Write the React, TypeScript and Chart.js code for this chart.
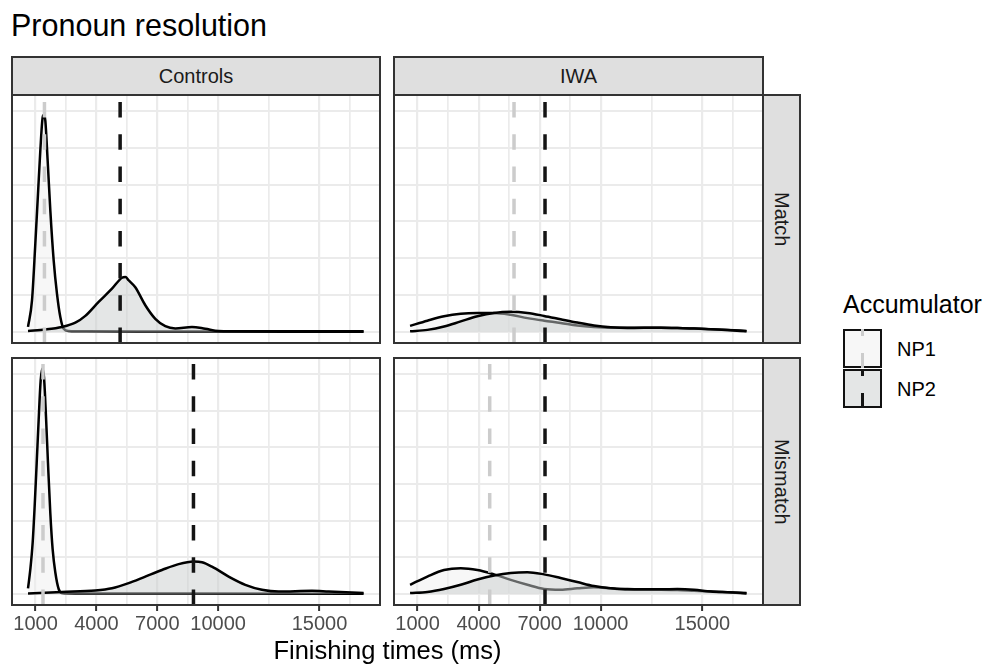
import React, { useEffect, useRef } from "react";
import { Chart, registerables } from "chart.js";

Chart.register(...registerables);

const FONT = "'Liberation Sans', Arial, Helvetica, sans-serif";

// ---------- scales ----------
const X_MIN = -160;
const X_MAX = 17980;
const X_MAJOR = [1000, 4000, 7000, 10000, 15000];
const X_MINOR = [2500, 5500, 8500, 12500, 16500];
const Y_MIN = -0.307;
const Y_MAX = 6.44;
const Y_GRID = [0, 1, 2, 3, 4, 5, 6];

// ---------- labels ----------
const TITLE = "Pronoun resolution";
const X_TITLE = "Finishing times (ms)";
const COLS = ["Controls", "IWA"];
const ROWS = ["Match", "Mismatch"];
const LEGEND_TITLE = "Accumulator";
const GROUPS = ["NP1", "NP2"];

// ---------- densities (x in ms, y in density units) ----------
const CTRL_MATCH_NP1_X = [629, 826, 990, 1121, 1236, 1351, 1417, 1483, 1598, 1729, 1894, 2058, 2222, 2386, 2633, 3500, 6000, 10000, 17170];
const CTRL_MATCH_NP1_Y = [0.13, 0.85, 2.4, 3.75, 4.93, 5.83, 5.9, 5.74, 4.65, 3.3, 1.94, 1.03, 0.4, 0.08, 0.02, 0.01, 0.005, 0.003, 0.002];
const CTRL_MATCH_NP2_X = [629, 1483, 2304, 2961, 3454, 4111, 4768, 5261, 5430, 5590, 5918, 6411, 6904, 7397, 7890, 8711, 9368, 10025, 11340, 17170];
const CTRL_MATCH_NP2_Y = [0.02, 0.06, 0.13, 0.245, 0.43, 0.81, 1.17, 1.47, 1.49, 1.4, 1.21, 0.72, 0.35, 0.15, 0.09, 0.13, 0.08, 0.02, 0.01, 0.01];

const CTRL_MISMATCH_NP1_X = [629, 744, 859, 957, 1057, 1154, 1253, 1335, 1417, 1516, 1614, 1729, 1844, 1976, 2140, 2304, 3000, 8000, 17170];
const CTRL_MISMATCH_NP1_Y = [0.145, 0.67, 1.4, 2.39, 3.57, 4.75, 5.83, 6.15, 5.92, 4.84, 3.57, 2.2, 1.21, 0.58, 0.13, 0.02, 0.01, 0.005, 0.003];
const CTRL_MISMATCH_NP2_X = [629, 2304, 3947, 4768, 5590, 6411, 7233, 8054, 8793, 9204, 9697, 10518, 11340, 12161, 12982, 14625, 15447, 17170];
const CTRL_MISMATCH_NP2_Y = [0.01, 0.05, 0.09, 0.15, 0.29, 0.47, 0.65, 0.81, 0.88, 0.86, 0.74, 0.47, 0.245, 0.11, 0.06, 0.08, 0.06, 0.02];

const IWA_X = [630, 1480, 2300, 3120, 3940, 4760, 5580, 6400, 7220, 8030, 8850, 9670, 10490, 11310, 12950, 13770, 14590, 15410, 16230, 17170];
const IWA_MATCH_NP1_Y = [0.16, 0.3, 0.42, 0.49, 0.51, 0.51, 0.46, 0.37, 0.3, 0.24, 0.17, 0.13, 0.11, 0.11, 0.11, 0.1, 0.09, 0.07, 0.05, 0.02];
const IWA_MATCH_NP2_Y = [0.01, 0.05, 0.14, 0.28, 0.42, 0.51, 0.54, 0.51, 0.43, 0.34, 0.25, 0.17, 0.12, 0.1, 0.11, 0.1, 0.09, 0.07, 0.045, 0.01];
const IWA_MISMATCH_NP1_Y = [0.245, 0.47, 0.65, 0.7, 0.65, 0.53, 0.38, 0.245, 0.13, 0.11, 0.15, 0.18, 0.15, 0.11, 0.11, 0.1, 0.08, 0.06, 0.04, 0.01];
const IWA_MISMATCH_NP2_Y = [0.02, 0.05, 0.13, 0.245, 0.39, 0.5, 0.57, 0.59, 0.53, 0.43, 0.32, 0.21, 0.15, 0.13, 0.12, 0.13, 0.11, 0.06, 0.04, 0.02];

// mean finishing times (dashed lines): [Controls-Match, IWA-Match, Controls-Mismatch, IWA-Mismatch]
const MEAN_NP1 = [1440, 5740, 1368, 4545];
const MEAN_NP2 = [5170, 7264, 8785, 7264];

// ---------- styles ----------
const NP1_FILL = "rgba(239,239,239,0.5)";
const NP2_FILL = "rgba(201,205,205,0.5)";
const NP1_VLINE = "#CCCCCC";
const NP2_VLINE = "#141414";
const DASH = [15.5, 16.7];
const GRID = "#EBEBEB";
const BORDER = "#333333";
const STRIP_BG = "#DFDFDF";

type PanelSpec = {
  left: number;
  top: number;
  width: number;
  height: number;
  axis: boolean;
  np1x: number[];
  np1y: number[];
  np2x: number[];
  np2y: number[];
  m1: number;
  m2: number;
};

const PAD = 3;
const AXIS_H = 40;

const borderPlugin = {
  id: "panelBorder",
  afterDraw(chart: any) {
    const { ctx, chartArea: a } = chart;
    ctx.save();
    ctx.strokeStyle = BORDER;
    ctx.lineWidth = 2;
    ctx.strokeRect(a.left, a.top, a.right - a.left, a.bottom - a.top);
    ctx.restore();
  },
};

function Panel({ spec }: { spec: PanelSpec }) {
  const ref = useRef<HTMLCanvasElement>(null);
  const cw = spec.width + 2 * PAD;
  const ch = spec.height + PAD + (spec.axis ? AXIS_H : PAD);

  useEffect(() => {
    const toPts = (xs: number[], ys: number[]) => xs.map((x, i) => ({ x, y: ys[i] }));
    const vline = (m: number) => [
      { x: m, y: Y_MIN },
      { x: m, y: Y_MAX },
    ];
    const chart = new Chart(ref.current as HTMLCanvasElement, {
      type: "line",
      data: {
        datasets: [
          {
            label: "NP1 mean",
            data: vline(spec.m1),
            borderColor: NP1_VLINE,
            borderWidth: 3.5,
            borderDash: DASH,
            borderCapStyle: "butt",
            pointRadius: 0,
            fill: false,
            order: 0,
          },
          {
            label: "NP2 mean",
            data: vline(spec.m2),
            borderColor: NP2_VLINE,
            borderWidth: 3.5,
            borderDash: DASH,
            borderCapStyle: "butt",
            pointRadius: 0,
            fill: false,
            order: 0,
          },
          {
            label: GROUPS[1],
            data: toPts(spec.np2x, spec.np2y),
            borderColor: "#000000",
            borderWidth: 2.5,
            backgroundColor: NP2_FILL,
            fill: "origin",
            pointRadius: 0,
            cubicInterpolationMode: "monotone",
            order: 1,
          },
          {
            label: GROUPS[0],
            data: toPts(spec.np1x, spec.np1y),
            borderColor: "#000000",
            borderWidth: 2.5,
            backgroundColor: NP1_FILL,
            fill: "origin",
            pointRadius: 0,
            cubicInterpolationMode: "monotone",
            order: 2,
          },
        ],
      } as any,
      options: {
        responsive: false,
        animation: false,
        events: [],
        layout: {
          padding: { left: PAD, right: PAD, top: PAD, bottom: spec.axis ? 0 : PAD },
        },
        plugins: {
          legend: { display: false },
          tooltip: { enabled: false },
        },
        scales: {
          x: {
            type: "linear",
            min: X_MIN,
            max: X_MAX,
            afterBuildTicks: (ax: any) => {
              ax.ticks = [...X_MAJOR, ...X_MINOR].sort((a, b) => a - b).map((v) => ({ value: v }));
            },
            afterFit: (ax: any) => {
              ax.height = spec.axis ? AXIS_H : 0;
              ax.paddingLeft = 0;
              ax.paddingRight = 0;
            },
            border: { display: false },
            grid: {
              color: GRID,
              lineWidth: (c: any) => (c.tick && X_MAJOR.includes(c.tick.value) ? 2.2 : 1.7),
              drawTicks: spec.axis,
              tickLength: 6,
              tickWidth: 2,
              tickColor: (c: any) =>
                c.tick && X_MAJOR.includes(c.tick.value) ? BORDER : "rgba(0,0,0,0)",
            },
            ticks: {
              display: spec.axis,
              autoSkip: false,
              maxRotation: 0,
              minRotation: 0,
              padding: 1.5,
              color: "#4D4D4D",
              font: { family: FONT, size: 20 },
              callback: (v: any) => (X_MAJOR.includes(Number(v)) ? String(v) : ""),
            },
          },
          y: {
            type: "linear",
            min: Y_MIN,
            max: Y_MAX,
            afterBuildTicks: (ax: any) => {
              ax.ticks = Y_GRID.map((v) => ({ value: v }));
            },
            afterFit: (ax: any) => {
              ax.width = 0;
            },
            border: { display: false },
            grid: { color: GRID, lineWidth: 2, drawTicks: false },
            ticks: { display: false },
          },
        },
      } as any,
      plugins: [borderPlugin],
    });
    return () => chart.destroy();
  }, []);

  return (
    <canvas
      ref={ref}
      width={cw}
      height={ch}
      style={{
        position: "absolute",
        left: spec.left - PAD,
        top: spec.top - PAD,
        width: cw,
        height: ch,
        display: "block",
      }}
    />
  );
}

const PANELS: PanelSpec[] = [
  {
    left: 12, top: 95, width: 368, height: 248, axis: false,
    np1x: CTRL_MATCH_NP1_X, np1y: CTRL_MATCH_NP1_Y,
    np2x: CTRL_MATCH_NP2_X, np2y: CTRL_MATCH_NP2_Y,
    m1: MEAN_NP1[0], m2: MEAN_NP2[0],
  },
  {
    left: 394, top: 95, width: 369, height: 248, axis: false,
    np1x: IWA_X, np1y: IWA_MATCH_NP1_Y,
    np2x: IWA_X, np2y: IWA_MATCH_NP2_Y,
    m1: MEAN_NP1[1], m2: MEAN_NP2[1],
  },
  {
    left: 12, top: 358, width: 368, height: 247, axis: true,
    np1x: CTRL_MISMATCH_NP1_X, np1y: CTRL_MISMATCH_NP1_Y,
    np2x: CTRL_MISMATCH_NP2_X, np2y: CTRL_MISMATCH_NP2_Y,
    m1: MEAN_NP1[2], m2: MEAN_NP2[2],
  },
  {
    left: 394, top: 358, width: 369, height: 247, axis: true,
    np1x: IWA_X, np1y: IWA_MISMATCH_NP1_Y,
    np2x: IWA_X, np2y: IWA_MISMATCH_NP2_Y,
    m1: MEAN_NP1[3], m2: MEAN_NP2[3],
  },
];

// place a single line of text by its baseline
const topFor = (baseline: number, size: number) => baseline - 0.8465 * size;

const txt = (size: number, color: string): React.CSSProperties => ({
  position: "absolute",
  fontFamily: FONT,
  fontSize: size,
  lineHeight: 1,
  color,
  whiteSpace: "nowrap",
  margin: 0,
});

const stripStyle = (left: number, top: number, width: number, height: number): React.CSSProperties => ({
  position: "absolute",
  left,
  top,
  width,
  height,
  boxSizing: "border-box",
  border: `2px solid ${BORDER}`,
  background: STRIP_BG,
  display: "flex",
  alignItems: "center",
  justifyContent: "center",
  fontFamily: FONT,
  fontSize: 20,
  lineHeight: 1,
  color: "#1A1A1A",
});

function LegendKey({ top, fill, line }: { top: number; fill: string; line: string }) {
  return (
    <div style={{ position: "absolute", left: 843, top, width: 39, height: 39 }}>
      <div
        style={{
          position: "absolute",
          inset: 0,
          boxSizing: "border-box",
          border: "2px solid #111111",
          background: fill,
        }}
      />
      <div
        style={{
          position: "absolute",
          left: 17.75,
          width: 3.5,
          top: 0,
          bottom: 0,
          background: `linear-gradient(to top, ${line} 0px, ${line} 15.5px, transparent 15.5px, transparent 32.2px, ${line} 32.2px)`,
        }}
      />
    </div>
  );
}

export default function App() {
  return (
    <div
      style={{
        position: "fixed",
        left: 0,
        top: 0,
        width: 987,
        height: 665,
        background: "#FFFFFF",
        overflow: "hidden",
      }}
    >
      <div style={{ ...txt(30.5, "#000000"), left: 11, top: topFor(36, 30.5) }}>{TITLE}</div>

      {/* column strips */}
      <div style={stripStyle(11, 56, 370, 40)}>{COLS[0]}</div>
      <div style={stripStyle(393, 56, 371, 40)}>{COLS[1]}</div>

      {/* row strips */}
      <div style={stripStyle(762, 94, 39, 250)}>
        <span style={{ writingMode: "vertical-rl" }}>{ROWS[0]}</span>
      </div>
      <div style={stripStyle(762, 357, 39, 249)}>
        <span style={{ writingMode: "vertical-rl" }}>{ROWS[1]}</span>
      </div>

      {PANELS.map((p, i) => (
        <Panel key={i} spec={p} />
      ))}

      <div
        style={{
          ...txt(25.5, "#000000"),
          left: 12,
          width: 751,
          textAlign: "center",
          top: topFor(660, 25.5),
        }}
      >
        {X_TITLE}
      </div>

      {/* legend */}
      <div style={{ ...txt(25, "#000000"), left: 843, top: topFor(313, 25) }}>{LEGEND_TITLE}</div>
      <LegendKey top={329} fill="#F7F7F7" line={NP1_VLINE} />
      <LegendKey top={369} fill="#E4E6E6" line={NP2_VLINE} />
      <div style={{ ...txt(20, "#000000"), left: 897, top: topFor(355.7, 20) }}>{GROUPS[0]}</div>
      <div style={{ ...txt(20, "#000000"), left: 897, top: topFor(396, 20) }}>{GROUPS[1]}</div>
    </div>
  );
}
